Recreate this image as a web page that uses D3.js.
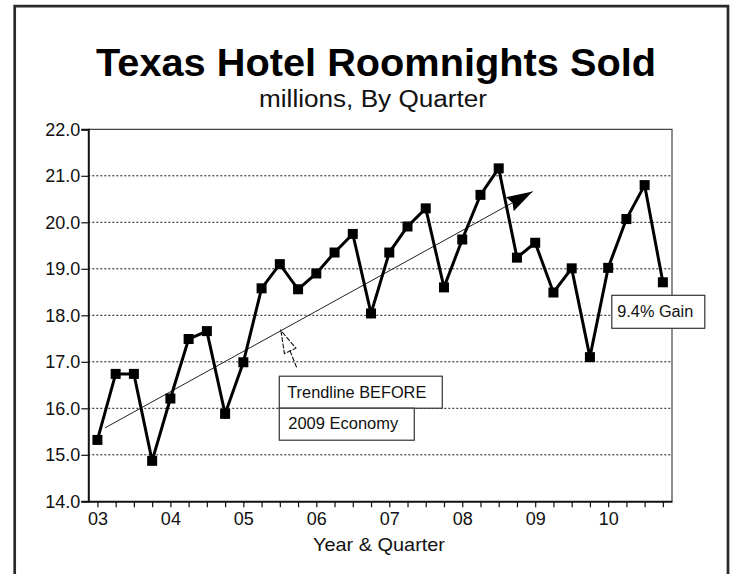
<!DOCTYPE html>
<html>
<head>
<meta charset="utf-8">
<script src="https://cdn.jsdelivr.net/npm/d3@7"></script>
<style>
  html, body { margin: 0; padding: 0; background: #fff; }
  svg text { font-family: "Liberation Sans", Arial, Helvetica, sans-serif; fill: #111; }
</style>
</head>
<body>
<svg id="chart" width="730" height="574"></svg>
<script>
// Quarterly roomnights sold in Texas hotels (millions), 2003 Q1 – 2010 Q4
const quarters = [
  "03Q1","03Q2","03Q3","03Q4","04Q1","04Q2","04Q3","04Q4",
  "05Q1","05Q2","05Q3","05Q4","06Q1","06Q2","06Q3","06Q4",
  "07Q1","07Q2","07Q3","07Q4","08Q1","08Q2","08Q3","08Q4",
  "09Q1","09Q2","09Q3","09Q4","10Q1","10Q2","10Q3","10Q4"
];
const roomnights = [
  15.32, 16.74, 16.74, 14.87, 16.21, 17.49, 17.66, 15.88,
  16.99, 18.58, 19.10, 18.56, 18.90, 19.35, 19.75, 18.04,
  19.35, 19.91, 20.30, 18.60, 19.63, 20.59, 21.16, 19.24,
  19.56, 18.49, 19.01, 17.10, 19.02, 20.07, 20.80, 18.71
];
const yearLabels = ["03","04","05","06","07","08","09","10"];
const yTicks = [14, 15, 16, 17, 18, 19, 20, 21, 22];
// Pre-2009 trend: [quarter index, value] at start and arrow tip
const trendStart = [0.42, 15.58];
const trendEnd = [23.86, 20.66];

const svg = d3.select("#chart");

// outer frame (open at the bottom)
svg.append("path")
  .attr("d", "M14.7,600 V6.2 H728 V600")
  .attr("fill", "none")
  .attr("stroke", "#2a2a2a")
  .attr("stroke-width", 2.7);

// titles
svg.append("text")
  .attr("x", 376).attr("y", 76)
  .attr("text-anchor", "middle")
  .attr("textLength", 560).attr("lengthAdjust", "spacingAndGlyphs")
  .style("font-size", "39px").style("font-weight", "bold")
  .style("fill", "#000")
  .text("Texas Hotel Roomnights Sold");
svg.append("text")
  .attr("x", 373).attr("y", 107)
  .attr("text-anchor", "middle")
  .attr("textLength", 228).attr("lengthAdjust", "spacingAndGlyphs")
  .style("font-size", "23px")
  .text("millions, By Quarter");

const plot = { left: 88.3, right: 672, top: 129.3, bottom: 501.3 };

const x = d3.scaleLinear().domain([-0.5, quarters.length - 0.5]).range([plot.left, plot.right]);
const y = d3.scaleLinear().domain([14, 22]).range([plot.bottom, plot.top]);

// dotted horizontal gridlines
svg.append("g")
  .selectAll("line")
  .data(yTicks.filter(t => t > 14 && t < 22))
  .join("line")
  .attr("x1", plot.left).attr("x2", plot.right)
  .attr("y1", d => y(d)).attr("y2", d => y(d))
  .attr("stroke", "#111")
  .attr("stroke-width", 1)
  .attr("stroke-dasharray", "2,2");

// top and right edges of the plot box
svg.append("path")
  .attr("d", `M${plot.left},${plot.top} H${plot.right} V${plot.bottom}`)
  .attr("fill", "none")
  .attr("stroke", "#444")
  .attr("stroke-width", 1.2);

// y axis
const yAxis = svg.append("g")
  .attr("transform", `translate(${plot.left},0)`)
  .call(d3.axisLeft(y).tickValues(yTicks).tickFormat(d3.format(".1f")).tickSize(7).tickPadding(1));
yAxis.select(".domain").attr("stroke", "#111").attr("stroke-width", 2);
yAxis.selectAll(".tick line").attr("stroke", "#111").attr("stroke-width", 1.2);
yAxis.selectAll(".tick text").style("font-size", "18px").attr("fill", "#111")
  .style("font-family", "'Liberation Sans', Arial, sans-serif");

// x axis: a tick per quarter, year label on each first quarter
const xAxis = svg.append("g")
  .attr("transform", `translate(0,${plot.bottom})`)
  .call(d3.axisBottom(x)
    .tickValues(d3.range(quarters.length))
    .tickFormat(i => (i % 4 === 0 ? yearLabels[i / 4] : ""))
    .tickSize(6).tickPadding(5)
    .tickSizeOuter(0));
xAxis.select(".domain").attr("stroke", "#111").attr("stroke-width", 2);
xAxis.selectAll(".tick line").attr("stroke", "#111").attr("stroke-width", 1.2);
xAxis.selectAll(".tick text").style("font-size", "18px").attr("fill", "#111")
  .style("font-family", "'Liberation Sans', Arial, sans-serif");

svg.append("text")
  .attr("x", 379).attr("y", 551)
  .attr("text-anchor", "middle")
  .attr("textLength", 132).attr("lengthAdjust", "spacingAndGlyphs")
  .style("font-size", "19px")
  .style("font-weight", 500)
  .text("Year & Quarter");

// trendline with a filled arrow head
const defs = svg.append("defs");
defs.append("marker")
  .attr("id", "trendHead")
  .attr("markerUnits", "userSpaceOnUse")
  .attr("viewBox", "0 0 26 16")
  .attr("refX", 26).attr("refY", 8)
  .attr("markerWidth", 26).attr("markerHeight", 16)
  .attr("orient", "auto")
  .append("path")
  .attr("d", "M0,0 L26,8 L0,16 L3,8 Z")
  .attr("fill", "#000");

svg.append("line")
  .attr("x1", x(trendStart[0])).attr("y1", y(trendStart[1]))
  .attr("x2", x(trendEnd[0])).attr("y2", y(trendEnd[1]))
  .attr("stroke", "#222")
  .attr("stroke-width", 1)
  .attr("marker-end", "url(#trendHead)");

// roomnights series
svg.append("path")
  .datum(roomnights)
  .attr("fill", "none")
  .attr("stroke", "#000")
  .attr("stroke-width", 3)
  .attr("stroke-linejoin", "miter")
  .attr("d", d3.line().x((d, i) => x(i)).y(d => y(d)));

const ms = 10;
svg.append("g")
  .selectAll("rect")
  .data(roomnights)
  .join("rect")
  .attr("x", (d, i) => x(i) - ms / 2)
  .attr("y", d => y(d) - ms / 2)
  .attr("width", ms).attr("height", ms)
  .attr("fill", "#000");

// callout: hollow arrow pointing at the trendline
const tipX = x(10.06), tipY = y(17.67);
svg.append("path")
  .attr("d", `M${tipX},${tipY} L${tipX + 3.5},${tipY + 23} L${tipX + 15},${tipY + 17.5} Z`)
  .attr("fill", "#fff")
  .attr("stroke", "#111")
  .attr("stroke-width", 1.1)
  .attr("stroke-dasharray", "5,1.5");
svg.append("line")
  .attr("x1", tipX + 9).attr("y1", tipY + 20)
  .attr("x2", tipX + 16).attr("y2", tipY + 37.5)
  .attr("stroke", "#111")
  .attr("stroke-width", 1.1)
  .attr("stroke-dasharray", "5,1.5");

// annotation boxes
function labelBox(x0, y0, w, h, label, tx, ty, tw) {
  const g = svg.append("g");
  g.append("rect")
    .attr("x", x0).attr("y", y0).attr("width", w).attr("height", h)
    .attr("fill", "#fff").attr("stroke", "#333").attr("stroke-width", 1.2);
  g.append("text")
    .attr("x", x0 + tx).attr("y", y0 + ty)
    .attr("textLength", tw).attr("lengthAdjust", "spacingAndGlyphs")
    .style("font-size", "16px")
    .attr("fill", "#222")
    .text(label);
}
const bx = x(9.97);
labelBox(bx, y(16.69), 163, 32, "Trendline BEFORE", 8, 21.5, 139);
labelBox(bx, y(16.69) + 32, 135, 32, "2009 Economy", 9, 21, 110);
labelBox(x(28.2), y(18.43), 93, 33, "9.4% Gain", 5.5, 21.5, 76);
</script>
</body>
</html>
